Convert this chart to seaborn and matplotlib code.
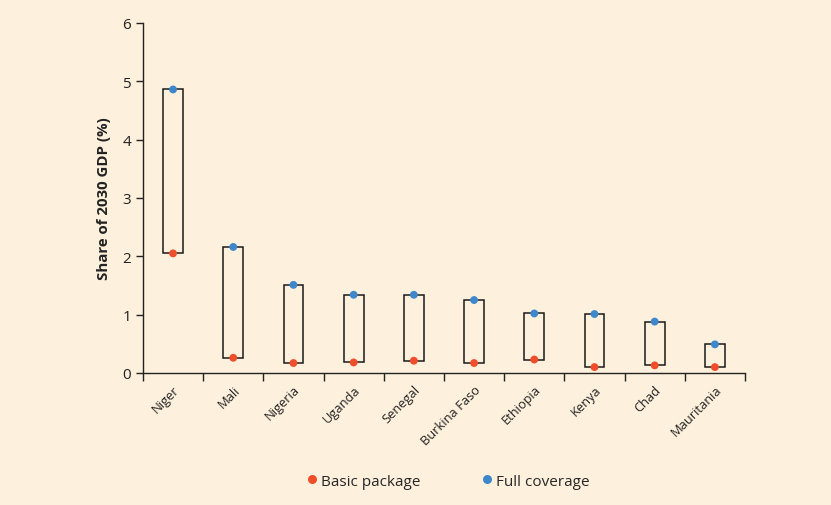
import numpy as np
import pandas as pd
import matplotlib
matplotlib.use("Agg")
import matplotlib.pyplot as plt
from matplotlib.lines import Line2D
import seaborn as sns

# --- data ---
countries = ["Niger", "Mali", "Nigeria", "Uganda", "Senegal",
             "Burkina Faso", "Ethiopia", "Kenya", "Chad", "Mauritania"]
basic = [2.05, 0.26, 0.17, 0.18, 0.21, 0.17, 0.23, 0.10, 0.13, 0.10]
full = [4.86, 2.16, 1.51, 1.34, 1.34, 1.25, 1.02, 1.01, 0.88, 0.49]
y_ticks = [0, 1, 2, 3, 4, 5, 6]

BG = "#FDF0DC"
RED = "#F04E2A"
BLUE = "#3E87CB"

sns.set_style("ticks")
plt.rcParams["font.family"] = ["Open Sans", "DejaVu Sans"]

df = pd.DataFrame({"country": countries, "basic": basic, "full": full})
df["span"] = df["full"] - df["basic"]

fig = plt.figure(figsize=(8.31, 5.06), dpi=100, facecolor=BG)
ax = fig.add_axes([0.172, 0.261, 0.7245, 0.6916], facecolor=BG)

# range boxes
ax.bar(df["country"], df["span"], bottom=df["basic"], width=0.33,
       facecolor="none", edgecolor="#1a1a1a", linewidth=1.1, zorder=2)

# end points
sns.scatterplot(data=df, x="country", y="basic", color=RED, s=32,
                edgecolor="none", ax=ax, zorder=3)
sns.scatterplot(data=df, x="country", y="full", color=BLUE, s=32,
                edgecolor="none", ax=ax, zorder=3)

ax.set_xlim(-0.5, len(countries) - 0.5)
ax.set_ylim(0, 6)
ax.set_yticks(y_ticks)
ax.set_xticks(np.arange(len(countries)))
ax.set_xticklabels(countries, rotation=45, ha="right", rotation_mode="anchor",
                   fontsize=9.3, color="#222222")
ax.set_xticks(np.arange(-0.5, len(countries)), minor=True)
ax.tick_params(axis="x", which="major", length=0, pad=7)
ax.tick_params(axis="x", which="minor", length=6, width=1.0, color="#222222")
ax.tick_params(axis="y", length=5, width=1.0, labelsize=11, colors="#222222")
ax.set_xlabel("")
ax.set_ylabel("Share of 2030 GDP (%)", fontsize=10.8, fontweight="bold",
              color="#222222", labelpad=8)
sns.despine(ax=ax)
for s in ["left", "bottom"]:
    ax.spines[s].set_linewidth(1.0)
    ax.spines[s].set_color("#222222")

handles = [
    Line2D([], [], marker="o", linestyle="none", markersize=6.5,
           markerfacecolor=RED, markeredgecolor="none", label="Basic package"),
    Line2D([], [], marker="o", linestyle="none", markersize=6.5,
           markerfacecolor=BLUE, markeredgecolor="none", label="Full coverage"),
]
fig.legend(handles=handles, loc="center", bbox_to_anchor=(0.538, 0.047),
           ncol=2, frameon=False, fontsize=11, handletextpad=0.1,
           columnspacing=3.8, handlelength=1.0)

fig.savefig("out.png", dpi=100, facecolor=BG)
